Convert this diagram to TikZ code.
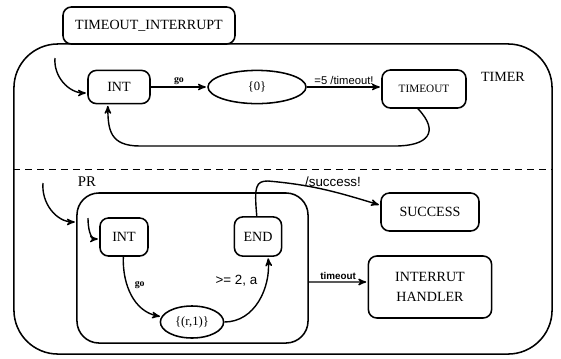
\documentclass[tikz,border=0pt]{standalone}
\usepackage{fontspec}
\setmainfont{Liberation Serif}
\newfontfamily\lblfont{Liberation Sans}
\usetikzlibrary{arrows,shapes.geometric}
\tikzset{->,>=stealth',shorten >=1pt,auto,x=0.025cm,y=-0.025cm,
  state/.style={draw,rounded corners=6pt,line width=1.1pt,font=\fontsize{10}{12}\selectfont},
  val/.style={draw,ellipse,inner sep=0pt,line width=1.1pt,font=\fontsize{9}{11}\selectfont},
  region/.style={draw,rounded corners=1.1cm,line width=1.1pt},
  lbl/.style={font=\lblfont\fontsize{8}{10}\selectfont,inner sep=1pt},
  evt/.style={font=\bfseries\fontsize{7}{9}\selectfont,inner sep=1pt}}

\begin{document}
\begin{tikzpicture}[line width=1pt]
              \useasboundingbox (0,0) rectangle (561,358);

              % the whole chart and its two parallel parts
              \node[region,minimum width=13.45cm,minimum height=7.75cm] (chart) at (283,199) {};
              \node[state,fill=white,minimum width=4.3cm,minimum height=0.925cm] (name) at (149,25.5) {TIMEOUT\_INTERRUPT};
              \coordinate (split) at (0,169.5);
              \draw[-,dashed,dash pattern=on 5pt off 3.5pt,line width=1.1pt] (chart.west |- split) -- (chart.east |- split);

              % timer part
              \node[state,minimum width=1.55cm,minimum height=0.83cm] (int) at (119,87) {INT};
              \node[val,minimum width=2.45cm,minimum height=0.83cm] (zero) at (257,87) {\{0\}};
              \node[state,minimum width=2.1cm,minimum height=0.95cm,font=\fontsize{8}{10}\selectfont] (tout) at (424,89) {TIMEOUT};
              \node[font=\fontsize{10}{12}\selectfont] (timer) at (503,77) {TIMER};
              \coordinate (start) at (55,58);

              \path
              (start) edge[out=-95,in=180] ([yshift=-0.15cm]int.west)
              (int) edge node[evt,above] {go} (zero)
              (zero.east) edge node[lbl,above] {=5 /timeout!} (zero.east -| tout.west)
              ;

              \draw ([xshift=-0.15cm]tout.south) .. controls (440,132) and (428,146) .. (395,146)
                -- (140,146) .. controls (110,146) and (108,130) .. ([xshift=-0.28cm]int.south);

              % PR part
              \node[font=\fontsize{10.5}{12}\selectfont] (prname) at (87,182) {PR};
              \node[region,rounded corners=0.55cm,minimum width=5.775cm,minimum height=3.75cm] (pr) at (192.5,268) {};
              \node[state,minimum width=1.2cm,minimum height=0.95cm] (int2) at (124,237) {INT};
              \node[state,minimum width=1.18cm,minimum height=0.98cm] (end) at (258,236.5) {END};
              \node[val,minimum width=1.58cm,minimum height=0.8cm] (r1) at (192,322) {\{(r,1)\}};
              \node[state,minimum width=2.45cm,minimum height=0.95cm] (succ) at (430,212) {SUCCESS};
              \node[state,align=center,minimum width=3.08cm,minimum height=1.55cm] (handler) at (430,287) {INTERRUT\\[2pt]HANDLER};
              \coordinate (start2) at (43,183);
              \coordinate (start3) at (88,218);

              \path
              (start2) edge[out=-95,in=180] ([yshift=1.15cm]pr.west)
              (start3) edge[out=-90,in=180] ([yshift=-0.05cm]int2.west)
              (int2) edge[out=-92,in=170] node[evt,pos=0.35,right=4pt] {go} (r1)
              (r1) edge[out=0,in=-85] node[lbl,font=\lblfont\fontsize{9.5}{11}\selectfont,pos=0.74,left=5pt] {>= 2, a} ([xshift=0.25cm]end.south)
              ([yshift=-0.35cm]pr.east) edge node[lbl,font=\lblfont\bfseries\fontsize{7}{9}\selectfont,above] {timeout} ([yshift=0.125cm]handler.west)
              ;

              \draw ([xshift=-0.03cm]end.north) .. controls (254,186) and (256,181) .. (268,181)
                to[out=-5,in=163] ([yshift=0.17cm]succ.west);
              \node[lbl,font=\lblfont\fontsize{9.5}{11}\selectfont] (succlbl) at (333,182) {/success!};
\end{tikzpicture}
\end{document}
